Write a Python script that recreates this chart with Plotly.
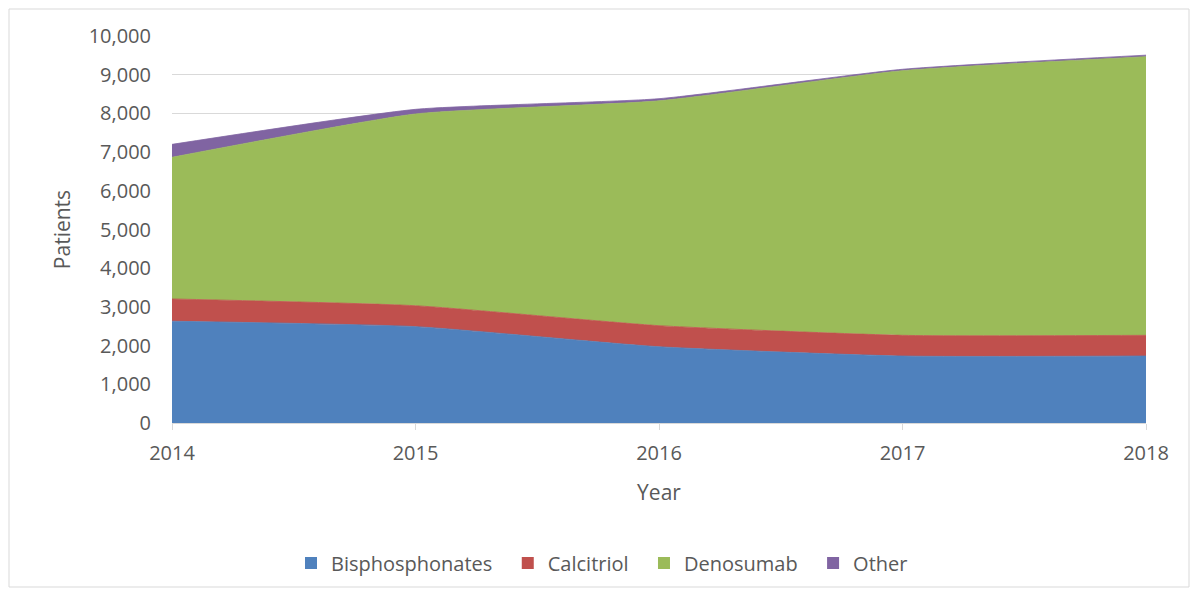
import plotly.graph_objects as go

# Patients per treatment by year
years = [2014, 2015, 2016, 2017, 2018]
bisphosphonates = [2630, 2490, 1970, 1730, 1730]
calcitriol = [575, 540, 545, 535, 535]
denosumab = [3660, 4955, 5810, 6840, 7200]
other = [335, 120, 55, 35, 40]

series = [
    ("Bisphosphonates", bisphosphonates, "#4F81BD"),
    ("Calcitriol", calcitriol, "#C0504D"),
    ("Denosumab", denosumab, "#9BBB59"),
    ("Other", other, "#8064A2"),
]

# page body has an 8px margin, so the figure is a bit smaller than the window
W, H = 1183, 581
L, R, T, B = 164, 45, 28, 166
pw, ph = W - L - R, H - T - B
GREY = "#595959"

fig = go.Figure()
for name, vals, color in series:
    fig.add_trace(go.Scatter(
        x=years, y=vals, name=name,
        stackgroup="one", mode="lines",
        line=dict(width=0.8, color=color, shape="spline", smoothing=0.5),
        fillcolor=color, showlegend=False,
    ))
# legend-only entries with square swatches, like the original
for name, vals, color in series:
    fig.add_trace(go.Scatter(
        x=[None], y=[None], name=name + "  ", mode="markers",
        marker=dict(symbol="square", size=12, color=color),
    ))

fig.update_layout(
    width=W, height=H,
    margin=dict(l=L, r=R, t=T, b=B, autoexpand=False),
    plot_bgcolor="white", paper_bgcolor="white",
    font=dict(family="Open Sans, sans-serif", size=20, color=GREY),
    showlegend=True,
    legend=dict(orientation="h", xref="container", yref="container",
                x=(607 - 8) / W, xanchor="center", y=(H - 555) / H, yanchor="middle",
                font=dict(size=20, color=GREY),
                traceorder="normal", itemwidth=30),
    xaxis=dict(
        range=[2014, 2018], tickmode="array", tickvals=years,
        ticktext=[str(y) for y in years],
        showgrid=False, showline=True, linecolor="#D9D9D9", linewidth=1,
        ticks="outside", ticklen=6, tickcolor="#D9D9D9",
        ticklabelstandoff=6, automargin=False,
        title=dict(text="Year", font=dict(size=21, color=GREY), standoff=20),
        zeroline=False,
    ),
    yaxis=dict(
        range=[0, 10000], dtick=1000, tickformat=",",
        showgrid=True, gridcolor="#D9D9D9", gridwidth=1,
        showline=False, zeroline=False, ticks="",
        ticklabelstandoff=20, automargin=False,
        title=dict(text="Patients", font=dict(size=21, color=GREY), standoff=12),
    ),
    shapes=[dict(
        type="rect", xref="paper", yref="paper",
        x0=-(L - 1) / pw, x1=1 + (R - 2) / pw,
        y0=-(B - 2) / ph, y1=1 + (T - 1) / ph,
        line=dict(color="#D9D9D9", width=1), fillcolor="rgba(0,0,0,0)",
        layer="below",
    )],
)

fig.write_html("out.html")
